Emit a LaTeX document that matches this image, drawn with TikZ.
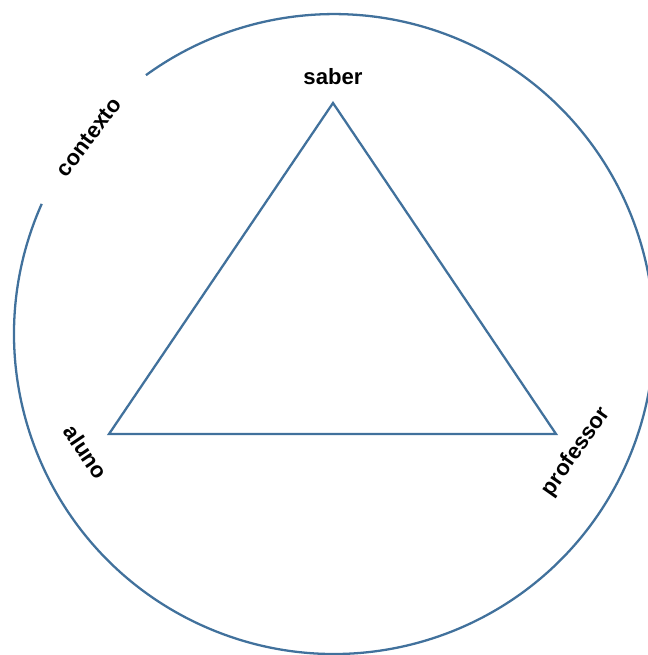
\documentclass[tikz,border=0pt]{standalone}
\usepackage{fontspec}
\setmainfont{Liberation Sans}
\usepackage{xcolor}
\usepackage{tikz}
\usetikzlibrary{calc}
\definecolor{linha}{HTML}{41719C}

\begin{document}
\begin{tikzpicture}[x=0.02cm,y=-0.02cm,
traco/.style={draw=linha,line width=1.3pt},
rot/.style={font=\fontsize{12.6}{15}\selectfont\bfseries,inner sep=0pt}]
\useasboundingbox (0,0) rectangle (648,655);
\coordinate (c) at (334,334);
\coordinate (s) at (333,103);
\coordinate (a) at (109,434);
\coordinate (p) at (556,434);
% contexto
\draw[traco] ($(c)+(156:6.4cm)$) arc[start angle=156,end angle=486,radius=6.4cm];
% triangulo
\draw[traco,line join=miter] (s)--(a)--(p)--cycle;
\node[rot] (saber) at (333,77) {saber};
\node[rot,rotate=-56] (aluno) at (86,452) {aluno};
\node[rot,rotate=55] (professor) at (576,452) {professor};
\node[rot,rotate=53] (contexto) at (89,137) {contexto};
\end{tikzpicture}
\end{document}
